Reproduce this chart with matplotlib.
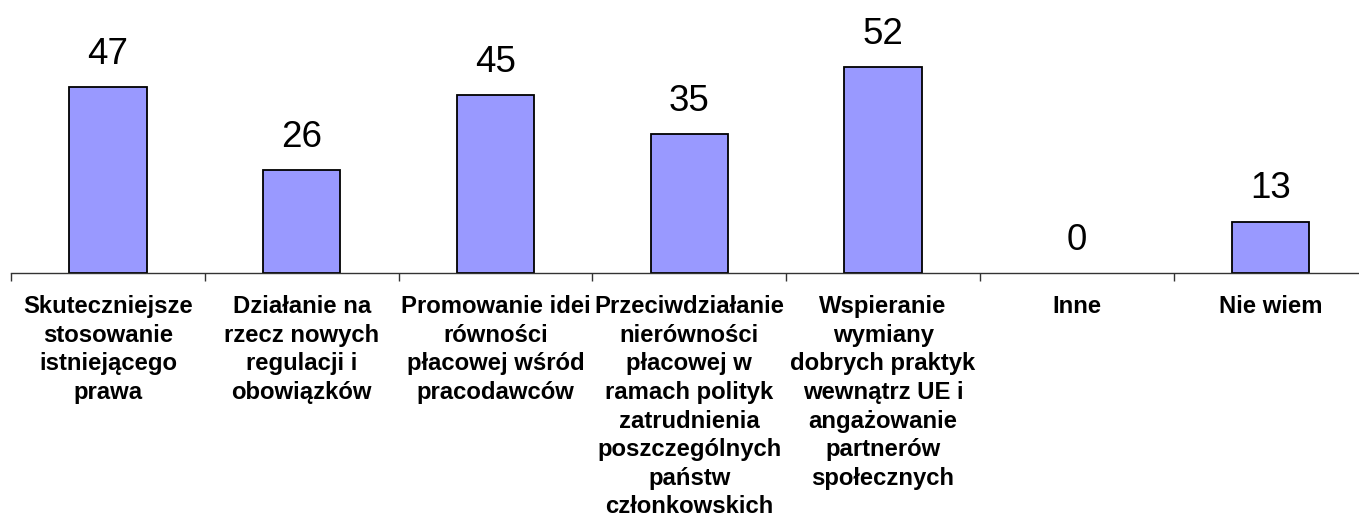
import matplotlib.pyplot as plt

categories = [
    "Skuteczniejsze\nstosowanie\nistniejącego\nprawa",
    "Działanie na\nrzecz nowych\nregulacji i\nobowiązków",
    "Promowanie idei\nrówności\npłacowej wśród\npracodawców",
    "Przeciwdziałanie\nnierówności\npłacowej w\nramach polityk\nzatrudnienia\nposzczególnych\npaństw\nczłonkowskich",
    "Wspieranie\nwymiany\ndobrych praktyk\nwewnątrz UE i\nangażowanie\npartnerów\nspołecznych",
    "Inne",
    "Nie wiem",
]
values = [47, 26, 45, 35, 52, 0, 13]

plt.rcParams['font.family'] = ['Liberation Sans', 'DejaVu Sans']

fig = plt.figure(figsize=(13.59, 5.2), dpi=100)
ax = fig.add_axes([11 / 1359, 247 / 520, 1356.6 / 1359, 237.6 / 520])

x = list(range(len(values)))
bars = ax.bar(x, values, width=0.4, color='#9999FF', edgecolor='black', linewidth=1.3, zorder=2)
# zero-height bars are not drawn in the original
for b, v in zip(bars, values):
    if v == 0:
        b.set_visible(False)

for xi, v in zip(x, values):
    ax.annotate(str(v), (xi, v), xytext=(0, 11), textcoords='offset points',
                ha='center', va='bottom', fontsize=26.5)

ax.set_xlim(-0.5, len(values) - 0.5)
ax.set_ylim(0, 60)

for s in ['left', 'right', 'top']:
    ax.spines[s].set_visible(False)
ax.spines['bottom'].set_color('#333333')
ax.spines['bottom'].set_linewidth(1.0)

ax.set_yticks([])
ax.set_xticks(x)
ax.set_xticklabels(categories, fontsize=17.2, fontweight='bold', linespacing=1.31)
ax.tick_params(axis='x', which='major', length=0, pad=16)
ax.set_xticks([i - 0.5 for i in range(len(values) + 1)], minor=True)
ax.tick_params(axis='x', which='minor', length=6, width=1.0, color='#333333', direction='out')

fig.savefig('out.png', dpi=100)
